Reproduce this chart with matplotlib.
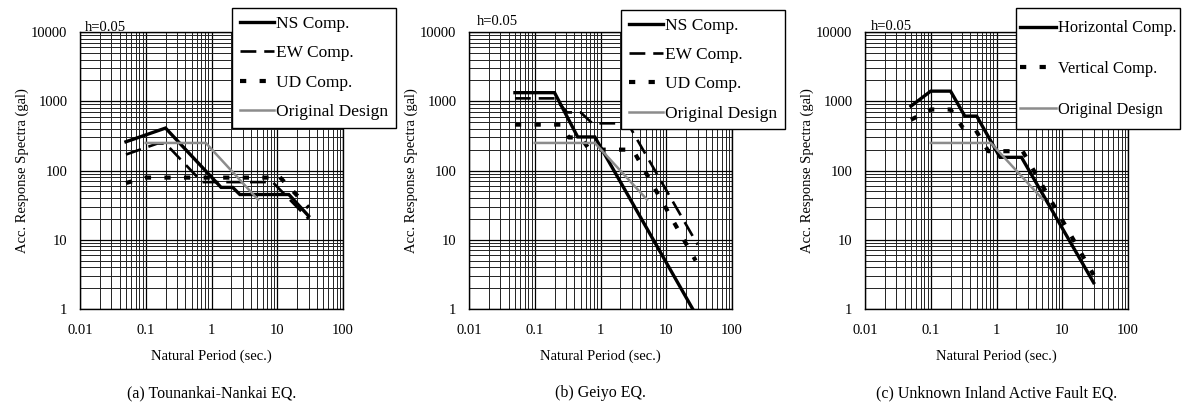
import matplotlib
matplotlib.use('Agg')
import matplotlib.pyplot as plt
from matplotlib.patches import Rectangle

plt.rcParams['font.family'] = ['Liberation Serif', 'DejaVu Serif']

# (a) Tounankai-Nankai EQ.
a_ns_t = [0.05, 0.2, 1.4, 2.1, 2.7, 15, 30]
a_ns_y = [260, 410, 57, 57, 45, 45, 22]
a_ew_t = [0.05, 0.15, 0.2, 0.72, 8.5, 30]
a_ew_y = [170, 245, 245, 68, 68, 20]
a_ud_t = [0.05, 0.1, 8, 10, 30]
a_ud_y = [66, 79, 79, 88, 29]

# (b) Geiyo EQ.
b_ns_t = [0.05, 0.2, 0.45, 0.82, 30]
b_ns_y = [1330, 1330, 305, 305, 0.75]
b_ew_t = [0.05, 0.2, 0.31, 0.5, 0.75, 2.6, 30]
b_ew_y = [1100, 1100, 690, 690, 480, 480, 8.5]
b_ud_t = [0.05, 0.25, 0.33, 0.5, 0.68, 3.1, 28]
b_ud_y = [460, 460, 300, 300, 200, 200, 5]

# (c) Unknown Inland Active Fault EQ.
c_h_t = [0.05, 0.1, 0.2, 0.33, 0.5, 1.13, 2.4, 30]
c_h_y = [850, 1400, 1400, 610, 610, 155, 155, 2.4]
c_v_t = [0.05, 0.1, 0.2, 0.31, 0.47, 0.75, 2.5, 30]
c_v_y = [540, 760, 760, 410, 400, 190, 190, 3.1]

# original design spectrum (same in all panels)
od_t = [0.1, 0.82, 5.1]
od_y = [250, 250, 38]

xticks = [0.01, 0.1, 1, 10, 100]
xtick_labels = ['0.01', '0.1', '1', '10', '100']
yticks = [1, 10, 100, 1000, 10000]
ytick_labels = ['1', '10', '100', '1000', '10000']
captions = ['(a) Tounankai-Nankai EQ.', '(b) Geiyo EQ.', '(c) Unknown Inland Active Fault EQ.']

W, H = 1185, 409
fig = plt.figure(figsize=(W / 100, H / 100), dpi=100)

lefts = [80, 469, 865]
ax_w, ax_top, ax_bot = 263, 32, 309
h_pos = [(0.019, 1.005), (0.029, 1.025), (0.022, 1.008)]

ns_style = dict(color='black', lw=2.4, solid_joinstyle='miter')
ew_style = dict(color='black', lw=1.9, dashes=(6, 3))
ud_style = dict(color='black', lw=3.0, dashes=(1.5, 3.2))
od_style = dict(color='#8c8c8c', lw=1.8)

axes = []
for i, L in enumerate(lefts):
    ax = fig.add_axes([L / W, 1 - ax_bot / H, ax_w / W, (ax_bot - ax_top) / H])
    ax.set_xscale('log')
    ax.set_yscale('log')
    ax.set_xlim(0.01, 100)
    ax.set_ylim(1, 10000)
    ax.grid(True, which='major', color='black', lw=0.9)
    ax.grid(True, which='minor', color='#222222', lw=0.7)
    ax.set_axisbelow(True)
    ax.set_xticks(xticks, xtick_labels)
    ax.set_yticks(yticks, ytick_labels)
    ax.tick_params(which='both', length=0, labelsize=10.5)
    ax.tick_params(axis='x', pad=11)
    ax.tick_params(axis='y', pad=9)
    for s in ax.spines.values():
        s.set_color('black')
        s.set_linewidth(1.0)
    ax.text(-0.22, 0.5, 'Acc. Response Spectra (gal)', transform=ax.transAxes,
            rotation=90, ha='center', va='center', fontsize=10.5)
    ax.text(0.5, -0.17, 'Natural Period (sec.)', transform=ax.transAxes,
            ha='center', va='center', fontsize=10.5)
    ax.text(h_pos[i][0], h_pos[i][1], 'h=0.05', transform=ax.transAxes,
            ha='left', va='baseline', fontsize=10.5)
    fig.text((L + ax_w / 2) / W, 1 - 393 / H, captions[i], ha='center', va='center', fontsize=11.5)
    axes.append(ax)

ax1, ax2, ax3 = axes
ax1.plot(a_ns_t, a_ns_y, label='NS Comp.', **ns_style)
ax1.plot(a_ew_t, a_ew_y, label='EW Comp.', **ew_style)
ax1.plot(a_ud_t, a_ud_y, label='UD Comp.', **ud_style)
ax1.plot(od_t, od_y, label='Original Design', **od_style)

ax2.plot(b_ns_t, b_ns_y, label='NS Comp.', **ns_style)
ax2.plot(b_ew_t, b_ew_y, label='EW Comp.', **ew_style)
ax2.plot(b_ud_t, b_ud_y, label='UD Comp.', **ud_style)
ax2.plot(od_t, od_y, label='Original Design', **od_style)

ax3.plot(c_h_t, c_h_y, label='Horizontal Comp.', **ns_style)
ax3.plot(c_v_t, c_v_y, label='Vertical Comp.', **ud_style)
ax3.plot(od_t, od_y, label='Original Design', **od_style)

leg_opts = [
    dict(pos=(0.577, 1.0855), fs=12.5, hl=2.0, ls=0.75, bp=0.45, frame=True),
    dict(pos=(0.577, 1.079), fs=12.5, hl=2.0, ls=0.75, bp=0.45, frame=True),
    dict(pos=(0.589, 1.042), fs=11.8, hl=2.2, ls=1.5, bp=0.0, frame=False),
]
for ax, o in zip(axes, leg_opts):
    leg = ax.legend(loc='upper left', bbox_to_anchor=o['pos'], borderaxespad=0,
                    fontsize=o['fs'], handlelength=o['hl'],
                    handletextpad=0.1, labelspacing=o['ls'], borderpad=o['bp'],
                    fancybox=False, framealpha=1, edgecolor='black',
                    frameon=o['frame'])
    leg.get_frame().set_linewidth(1.0)
    leg.set_zorder(5)

# taller box behind the third legend
box = Rectangle((1016 / W, 1 - 129 / H), 164 / W, 121 / H, transform=fig.transFigure,
                facecolor='white', edgecolor='black', lw=1.0, zorder=4, clip_on=False)
ax3.add_artist(box)

fig.savefig('out.png', dpi=100)
